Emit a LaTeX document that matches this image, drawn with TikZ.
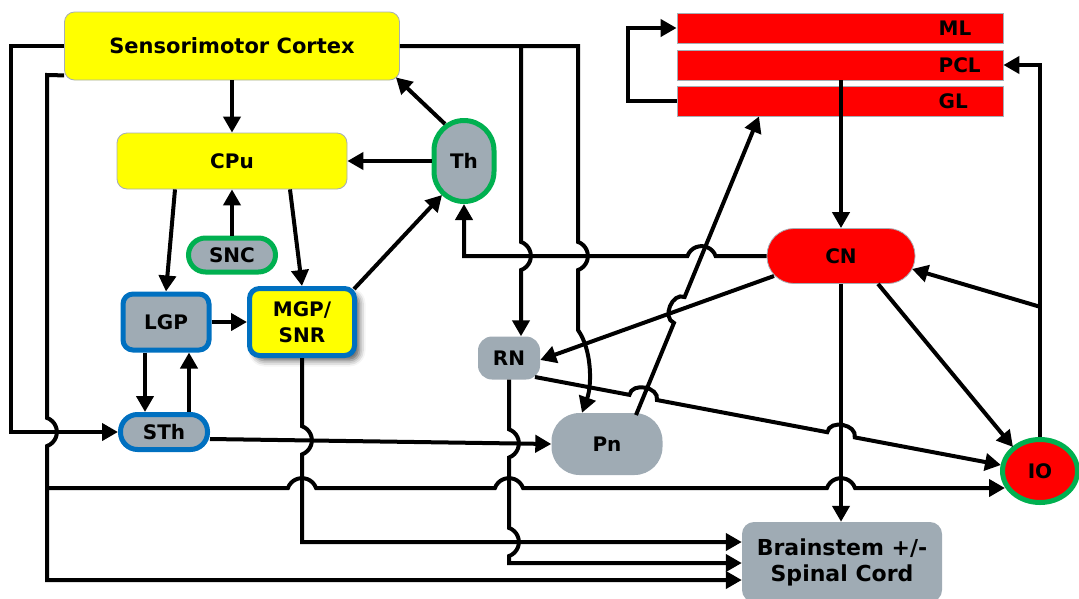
\documentclass[tikz,border=0pt]{standalone}
\usepackage{fontspec}
\setmainfont{DejaVu Sans}
\usetikzlibrary{arrows.meta,positioning,calc,shapes.geometric,shadows.blur}
\definecolor{cortexyellow}{HTML}{FFFF00}
\definecolor{cerebred}    {HTML}{FF0000}
\definecolor{nucleusgrey} {HTML}{9FABB4}
\definecolor{rimgreen}    {HTML}{00B050}
\definecolor{rimblue}     {HTML}{0070C0}
\definecolor{rimgrey}     {HTML}{A6ADB4}
\tikzset{
  region/.style={
    rectangle, rounded corners=10pt, text=black, align=center,
    font=\bfseries\fontsize{20}{26}\selectfont, inner sep=0pt
  },
  yellowbox/.style={region, fill=cortexyellow, draw=rimgrey, line width=0.8pt},
  greybox/.style={region, fill=nucleusgrey},
  greenrim/.style={greybox, draw=rimgreen, line width=5pt},
  bluerim/.style={greybox, draw=rimblue, line width=5pt},
  layerbar/.style={
    rectangle, fill=cerebred, draw=rimgrey, line width=0.8pt,
    minimum width=326pt, minimum height=30pt, inner sep=0pt
  },
  barlabel/.style={font=\bfseries\fontsize{20}{24}\selectfont, inner sep=0pt, anchor=west},
  tract/.style={line width=4pt, -{Triangle[length=16pt, width=17pt]}},
  wire/.style={line width=4pt}
}
\newcommand{\hopright}{arc[start angle=200, end angle=340, radius=15]}
\newcommand{\hopleft}{arc[start angle=340, end angle=200, radius=15]}
\newcommand{\hopdown}{arc[start angle=-70, end angle=70, radius=15]}

\begin{document}
\begin{tikzpicture}[x=1pt, y=-1pt]
  \useasboundingbox (0,0) rectangle (1079,598);

  \node[yellowbox, minimum width=335pt, minimum height=68pt,
        font=\bfseries\fontsize{21}{26}\selectfont] (cortex) at (232,46) {Sensorimotor Cortex};
  \node[yellowbox, minimum width=230pt, minimum height=56pt] (cpu) at (232,161) {CPu};
  \node[greenrim, minimum width=60pt, minimum height=81pt, rounded corners=30pt] (th) at (464,161) {Th};
  \node[greenrim, minimum width=87pt, minimum height=34pt, rounded corners=17pt] (snc) at (232,255) {SNC};
  \node[bluerim, minimum width=86pt, minimum height=56pt] (lgp) at (166,322) {LGP};
  \node[bluerim, fill=cortexyellow, minimum width=105pt, minimum height=67pt,
        blur shadow={shadow xshift=5pt, shadow yshift=-5pt, shadow blur radius=6pt, shadow opacity=65}]
        (mgp) at (302,322) {MGP/\\SNR};
  \node[bluerim, minimum width=87pt, minimum height=35pt, rounded corners=17pt] (sth) at (164,432) {STh};
  \node[greybox, minimum width=62pt, minimum height=43pt, rounded corners=14pt] (rn) at (509,358) {RN};
  \node[greybox, minimum width=111pt, minimum height=62pt, rounded corners=28pt] (pn) at (607,444) {Pn};
  \node[region, fill=cerebred, draw=rimgrey, line width=0.8pt, minimum width=148pt,
        minimum height=55pt, rounded corners=27pt] (cn) at (841,256) {CN};
  \node[ellipse, fill=cerebred, draw=rimgreen, line width=5pt, minimum width=75pt,
        minimum height=63pt, inner sep=0pt, font=\bfseries\fontsize{20}{24}\selectfont] (io) at (1040,471) {IO};
  \node[greybox, minimum width=200pt, minimum height=80pt, rounded corners=12pt,
        font=\bfseries\fontsize{22}{26}\selectfont]
        (brain) at (842,562) {Brainstem +/-\\Spinal Cord};
  \node[layerbar] (ml)  at (840,28)  {};
  \node[layerbar] (pcl) at (840,65)  {};
  \node[layerbar] (gl)  at (840,101) {};
  \node[barlabel] (mltext)  at ([xshift=-65pt]ml.east)  {ML};
  \node[barlabel] (pcltext) at ([xshift=-65pt]pcl.east) {PCL};
  \node[barlabel] (gltext)  at ([xshift=-65pt]gl.east)  {GL};

  \coordinate (ctxsplit) at (521,46);
  \coordinate (ctxlow)   at ($(cortex.south west)+(0,-5)$);
  \coordinate (pnout)    at ($(pn.center)+(29,-29)$);
  \coordinate (glin)     at ($(gl.south)+(-81,0)$);
  \coordinate (cnout)    at ($(cn.center)+(-67,20)$);
  \coordinate (rnout)    at ($(rn.center)+(26,19)$);
  \coordinate (ioin)     at ($(io.center)+(-39,-6)$);
  \coordinate (ioleft)   at ($(io.center)+(-35,17)$);
  \coordinate (sthout)   at ($(sth.east)+(0,7)$);
  \coordinate (iobranch) at ($(io.north)!0.35!(io.north |- pcl.east)$);

  % basal ganglia loop
  \draw[tract] (cortex.south) -- (cpu.north);
  \draw[tract] (snc.north) -- (cpu.south);
  \draw[tract] (th.west) -- (cpu.east);
  \draw[tract] ($(th.center)+(-19,-37)$) -- ($(cortex.south east)+(-4,-3)$);
  \draw[tract] ($(cpu.south)+(-57,0)$) -- (lgp.north);
  \draw[tract] ($(cpu.south)+(58,0)$) -- (mgp.north);
  \draw[tract] (lgp.east) -- (mgp.west);
  \draw[tract] ($(lgp.south)+(-21,0)$) -- ($(sth.north)+(-19,0)$);
  \draw[tract] ($(sth.north)+(25,0)$) -- ($(lgp.south)+(23,0)$);
  \draw[tract] ($(mgp.north east)+(-3,3)$) -- ($(th.center)+(-22,34)$);
  \draw[tract] (sthout) -- (pn.west);

  % cortex outputs
  \draw[tract] (cortex.west) -- ++(-53,0) |- (sth.west);
  \draw[tract] (ctxlow) -- (47,75) -- (47,417.9) \hopdown -- (47,580) -- ($(brain.west)+(0,18)$);
  \draw[tract] (47,488) -- (287.9,488) \hopright -- (494.9,488) \hopright -- (826.9,488) \hopright -- (ioleft);
  \draw[tract] (cortex.east) -- (578,46) -- (578,241.9) \hopdown -- (578,330)
    .. controls (592,350) and (592,385) .. ($(pn.north)+(-25,0)$);
  \draw[tract] (ctxsplit) -- (521,241.9) \hopdown -- (rn.north -| ctxsplit);

  % descending
  \draw[tract] (mgp.south) -- (302,426.2) \hopdown -- (302,542) -- ($(brain.west)+(0,-20)$);
  \draw[tract] (rn.south) -- (509,429.3) \hopdown -- (509,527.9) \hopdown -- (509,563) -- ($(brain.west)+(0,1)$);

  % cerebellum
  \draw[tract] (cn.west) -- (715.6,256) \hopleft -- (th.south |- cn.west) -- (th.south);
  \draw[tract] (cnout) -- ($(rn.east)+(0,2)$);
  \draw[tract] (pnout) -- ($(pnout)!0.3084!(glin)$) to[bend left=90, looseness=1.22]
    ($(pnout)!0.3952!(glin)$) -- (glin);
  \draw[tract] (rnout) -- ($(rnout)!0.2027!(ioin)$) to[bend left=90, looseness=1.22]
    ($(rnout)!0.2617!(ioin)$) -- ($(rnout)!0.6272!(ioin)$) to[bend left=90, looseness=1.22]
    ($(rnout)!0.6862!(ioin)$) -- (ioin);
  \draw[tract] (cn.south) -- (cn.south |- brain.north);
  \draw[tract] ($(cn.south)+(37,0)$) -- ($(io.center)+(-27,-24)$);
  \draw[tract] (io.north) -- (io.north |- pcl.east) -- (pcl.east);
  \draw[tract] (iobranch) -- ($(cn.center)+(71,13)$);
  \draw[tract] (pcl.south -| cn.north) -- (cn.north);
  \draw[tract] (gl.west) -- ++(-49,0) |- (ml.west);
\end{tikzpicture}
\end{document}
